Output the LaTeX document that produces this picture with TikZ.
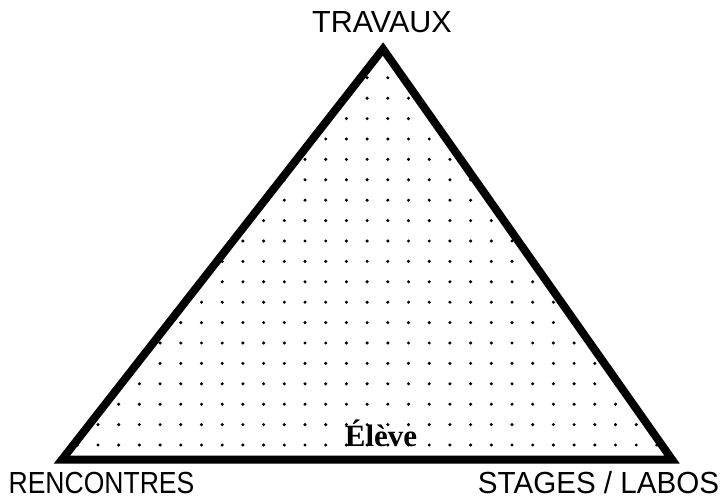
\documentclass[tikz,border=0pt]{standalone}
\usepackage{fontspec}
\setmainfont{Liberation Serif}
\setsansfont{Liberation Sans}
\usetikzlibrary{math}

\tikzset{
  corner label/.style={font=\sffamily\fontsize{30.5}{31}\selectfont, inner sep=0pt, anchor=base},
  pupil label/.style={font=\bfseries\fontsize{31}{32}\selectfont, inner sep=0pt, anchor=base},
  grid dot/.style={fill=black}
}

\begin{document}
\begin{tikzpicture}[x=1pt,y=1pt]

\tikzmath{
\lw = 8; %edge width
\dx = 20.7; %dot spacing
\dy = 20.4;
\xo = 305; %dot origin
\yo = 54;
\rd = 1.7; %dot radius
}

\useasboundingbox (0,0) rectangle (727,499);

\coordinate (top) at (383,450);
\coordinate (left) at (62,39.5);
\coordinate (right) at (672,39.5);

%dots:
\begin{scope}
\clip (top) -- (left) -- (right) -- cycle;
\foreach \j in {0,...,18}{
  \foreach \k in {-12,...,18}{
    \fill[grid dot] (\xo+\k*\dx,\yo+\j*\dy) circle(\rd);
  }
}
\end{scope}

%triangle:
\draw[line width=\lw, line join=miter] (top) -- (left) -- (right) -- cycle;

%labels:
\node[corner label] (travaux) at (382,466) {TRAVAUX};
\node[corner label] (rencontres) at (101.5,6) {\scalebox{0.87}[1]{RENCONTRES}};
\node[corner label] (stages) at (598.5,6) {\scalebox{0.97}[1]{STAGES / LABOS}};
\node[pupil label] (eleve) at (381,53) {Élève};

\end{tikzpicture}
\end{document}
